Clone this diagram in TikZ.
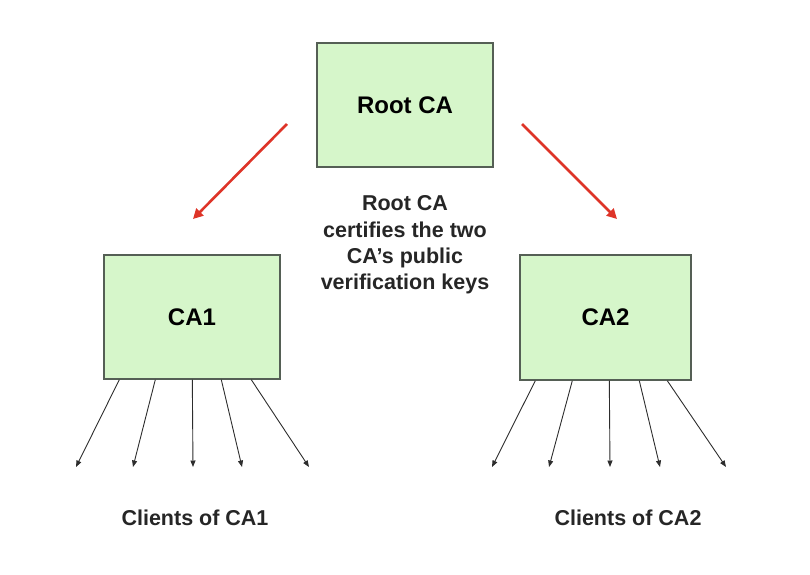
\documentclass[tikz,border=0pt]{standalone}
\usepackage{fontspec}
\setmainfont{Liberation Sans}
\usetikzlibrary{arrows.meta}
\definecolor{boxfill}{RGB}{214,246,202}
\definecolor{boxline}{RGB}{85,95,85}
\definecolor{redarr}{RGB}{222,52,40}
\definecolor{blkarr}{RGB}{45,45,45}
\tikzset{
  cabox/.style={draw=boxline, line width=1.4pt, fill=boxfill, minimum width=176pt, minimum height=124pt, inner sep=0pt, font=\fontsize{24}{27}\selectfont\bfseries},
  redline/.style={draw=redarr, line width=2.6pt, -{Triangle[length=10pt,width=10pt]}},
  clientarr/.style={draw=blkarr, line width=0.9pt, -{Triangle[length=6.5pt,width=5pt]}},
  lbl/.style={font=\fontsize{21.5}{26.3}\selectfont\bfseries, align=center, text=black!85},
}
\begin{document}
\begin{tikzpicture}[x=1pt,y=-1pt]
\useasboundingbox (0,0) rectangle (810,574);
\node[cabox] (root) at (405,105) {Root CA};
\node[cabox] (ca1) at (192,317) {CA1};
\node[cabox, minimum width=171pt, minimum height=125pt] (ca2) at (605.5,317.5) {CA2};
\node[lbl] (txt) at (405,245) {Root CA\\certifies the two\\CA’s public\\verification keys};
\coordinate (r1s) at (287,124);
\coordinate (r1e) at (193,219);
\coordinate (r2s) at (522,124);
\coordinate (r2e) at (617,219);
\draw[redline] (r1s) -- (r1e);
\draw[redline] (r2s) -- (r2e);
% clients of CA1
\coordinate (a1) at (76,467);
\coordinate (a2) at (133,467);
\coordinate (a3) at (193,467);
\coordinate (a4) at (242,467);
\coordinate (a5) at (309,467);
\draw[clientarr] ([xshift=16pt]ca1.south west) -- (a1);
\draw[clientarr] ([xshift=52pt]ca1.south west) -- (a2);
\draw[clientarr] ([xshift=89pt]ca1.south west) -- (a3);
\draw[clientarr] ([xshift=118pt]ca1.south west) -- (a4);
\draw[clientarr] ([xshift=148pt]ca1.south west) -- (a5);
% clients of CA2
\coordinate (b1) at (492,467);
\coordinate (b2) at (549,467);
\coordinate (b3) at (610,467);
\coordinate (b4) at (660,467);
\coordinate (b5) at (726,467);
\draw[clientarr] ([xshift=16pt]ca2.south west) -- (b1);
\draw[clientarr] ([xshift=53pt]ca2.south west) -- (b2);
\draw[clientarr] ([xshift=90pt]ca2.south west) -- (b3);
\draw[clientarr] ([xshift=120pt]ca2.south west) -- (b4);
\draw[clientarr] ([xshift=148pt]ca2.south west) -- (b5);
\node[lbl] (cl1) at (195,518) {Clients of CA1};
\node[lbl] (cl2) at (628,518) {Clients of CA2};
\end{tikzpicture}
\end{document}
